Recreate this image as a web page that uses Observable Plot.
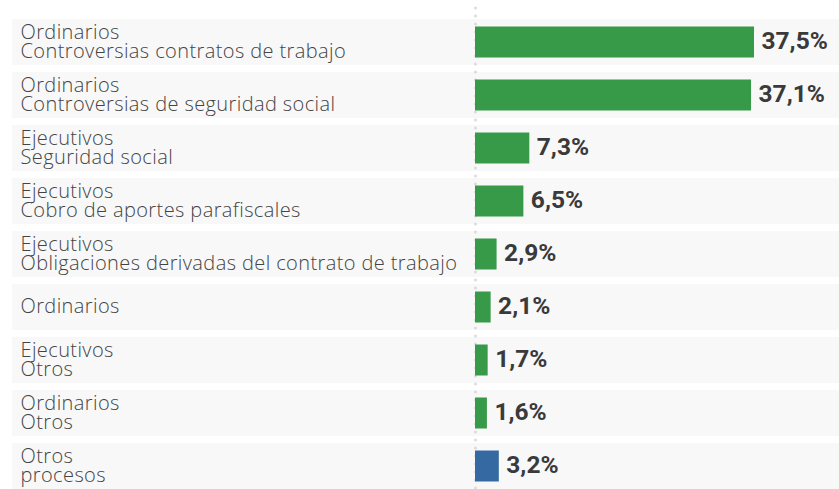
<!DOCTYPE html>
<html>
<head>
<meta charset="utf-8">
<script src="https://cdn.jsdelivr.net/npm/d3@7"></script>
<script src="https://cdn.jsdelivr.net/npm/@observablehq/plot@0.6"></script>
<style>
  html, body { margin: 0; padding: 0; background: #fff; }
  #chart svg { display: block; }
</style>
</head>
<body>
<div id="chart"></div>
<script>
const groups = ["Ordinarios", "Ordinarios", "Ejecutivos", "Ejecutivos", "Ejecutivos", "Ordinarios", "Ejecutivos", "Ordinarios", "Otros"];
const subtypes = ["Controversias contratos de trabajo", "Controversias de seguridad social", "Seguridad social", "Cobro de aportes parafiscales", "Obligaciones derivadas del contrato de trabajo", "", "Otros", "Otros", "procesos"];
const shares = [37.5, 37.1, 7.3, 6.5, 2.9, 2.1, 1.7, 1.6, 3.2];
const kinds = ["detalle", "detalle", "detalle", "detalle", "detalle", "detalle", "detalle", "detalle", "otros"];

const data = shares.map((v, i) => ({
  key: String(i),
  label: subtypes[i] ? groups[i] + "\n" + subtypes[i] : groups[i],
  value: v,
  kind: kinds[i],
  text: d3.format(".1f")(v).replace(".", ",") + "%"
}));

const chart = Plot.plot({
  width: 839,
  height: 489,
  marginLeft: 12,
  marginRight: 0,
  marginTop: 8,
  marginBottom: 0,
  style: { background: "#fff", fontFamily: "Roboto, 'Noto Sans', sans-serif" },
  x: { domain: [0, 37.5], range: [475, 754], axis: null },
  y: { domain: data.map(d => d.key), range: [16.7, 490.7], paddingInner: 0.14, paddingOuter: 0, axis: null },
  color: { domain: ["detalle", "otros"], range: ["#369a48", "#3469a1"] },
  marks: [
    Plot.cell(data, { y: "key", fill: "#f8f8f8" }),
    Plot.ruleX([0], { stroke: "#dcdcdc", strokeWidth: 3, strokeLinecap: "round", strokeDasharray: "0,8" }),
    Plot.barX(data, { y: "key", x: "value", fill: "kind", insetTop: 7.5, insetBottom: 7.5 }),
    Plot.text(data, { y: "key", text: "label", frameAnchor: "left", dx: 8, textAnchor: "start", fontFamily: "'Open Sans', Roboto, sans-serif", fontSize: 20, fontWeight: 300, lineHeight: 0.92, fill: "#444" }),
    Plot.text(data, { y: "key", x: "value", text: "text", dx: 7, dy: -1, textAnchor: "start", fontSize: 24.5, fontWeight: 700, fill: "#3a3a3a" })
  ]
});
d3.select(chart).selectAll("g[aria-label='text']").filter((d, i) => i === 0).style("letter-spacing", "0.4px");
document.getElementById("chart").appendChild(chart);
</script>
</body>
</html>
